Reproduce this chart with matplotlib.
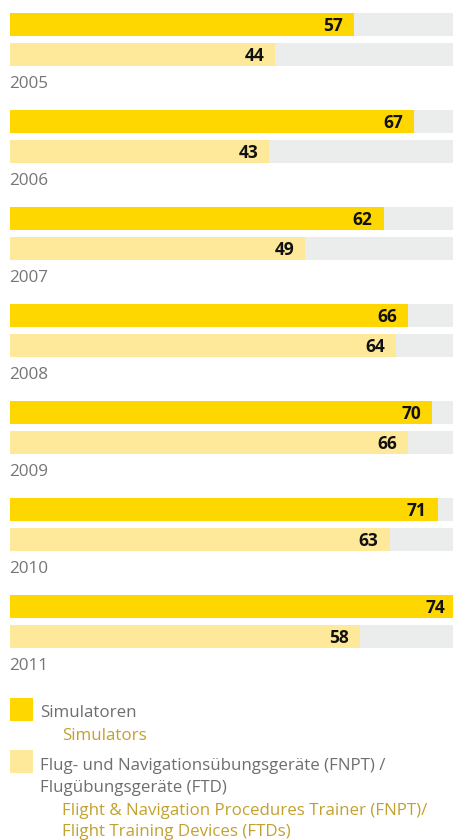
import matplotlib
matplotlib.use("Agg")
import matplotlib.pyplot as plt
from matplotlib.patches import Rectangle

years = ["2005", "2006", "2007", "2008", "2009", "2010", "2011"]
simulators = [57, 67, 62, 66, 70, 71, 74]
fnpt_ftd = [44, 43, 49, 64, 66, 63, 58]
legend_de = ["Simulatoren",
             ["Flug- und Navigationsübungsgeräte (FNPT) /",
              "Flugübungsgeräte (FTD)"]]
legend_en = ["Simulators",
             ["Flight & Navigation Procedures Trainer (FNPT)/",
              "Flight Training Devices (FTDs)"]]

C_SIM = "#FFD700"
C_FNPT = "#FEE99A"
C_BG = "#EBECEC"
C_YEAR = "#767676"
C_DE = "#6E6E6E"
C_EN = "#C3A12E"
FONT = "Open Sans"

W, H = 453, 840
fig = plt.figure(figsize=(W / 100, H / 100), dpi=100)

# axes: one unit on y = one year group
GROUP = 97
ax = fig.add_axes([10 / W, 1 - 679 / H, 443 / W, 679 / H])
XMAX = 73.5
ax.set_xlim(0, XMAX)
ax.set_ylim(7.0, 0)
ax.axis("off")

bar_h = 23 / GROUP
off1 = (13 + 11.5) / GROUP
off2 = (43 + 11.5) / GROUP
off_year = 84 / GROUP

for i, (yr, s, f) in enumerate(zip(years, simulators, fnpt_ftd)):
    for off, val, col in ((off1, s, C_SIM), (off2, f, C_FNPT)):
        y = i + off
        ax.barh(y, XMAX, height=bar_h, color=C_BG, left=0, linewidth=0)
        ax.barh(y, val, height=bar_h, color=col, left=0, linewidth=0)
        ax.annotate(str(val), xy=(val, y), xytext=(-8, -1),
                    textcoords="offset points", ha="right", va="center",
                    fontsize=12.5, fontweight="bold", color="#111111",
                    family=FONT, annotation_clip=False)
    ax.text(-0.1, i + off_year, yr, ha="left", va="center", fontsize=12.3,
            color=C_YEAR, family=FONT)

# legend
def fy(py):
    return 1 - py / H

fig.patches.append(Rectangle((10 / W, fy(721)), 23 / W, 23 / H,
                             transform=fig.transFigure, color=C_SIM, lw=0))
fig.patches.append(Rectangle((10 / W, fy(773)), 23 / W, 23 / H,
                             transform=fig.transFigure, color=C_FNPT, lw=0))

FS = 12.2
fig.text(40 / W, fy(713), legend_de[0], ha="left", va="center",
         fontsize=FS, color=C_DE, family=FONT)
fig.text(62 / W, fy(736), legend_en[0], ha="left", va="center",
         fontsize=FS, color=C_EN, family=FONT)
for line, py in zip(legend_de[1], (766, 788)):
    fig.text(40 / W, fy(py), line, ha="left", va="center",
             fontsize=FS, color=C_DE, family=FONT)
for line, py in zip(legend_en[1], (811, 832)):
    fig.text(62 / W, fy(py), line, ha="left", va="center",
             fontsize=FS, color=C_EN, family=FONT)

fig.savefig("out.png", dpi=100)
